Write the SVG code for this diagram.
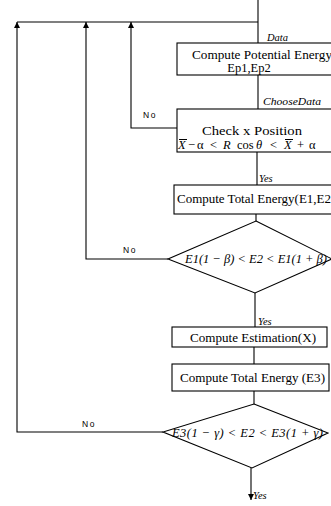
<svg xmlns="http://www.w3.org/2000/svg" width="331" height="506" viewBox="0 0 331 506">
<defs>
<style>
.ln{stroke:#000;stroke-width:1.1;fill:none}
.bx{stroke:#000;stroke-width:1.1;fill:#fff}
.t{font-family:"Liberation Serif","Times New Roman",serif;font-size:12.5px;fill:#000}
.m{font-family:"Liberation Serif","Times New Roman",serif;font-size:12.5px;font-style:italic;fill:#000}
.lb{font-family:"Liberation Serif","Times New Roman",serif;font-size:10.5px;font-style:italic;fill:#000}
.no{font-family:"Liberation Sans",Arial,sans-serif;font-size:8.5px;letter-spacing:1.5px;fill:#000}
</style>
<marker id="ah" viewBox="0 0 6 8" refX="6" refY="3" markerWidth="6" markerHeight="8" orient="auto" markerUnits="userSpaceOnUse">
<path d="M0,0 L6,3 L0,6 z" fill="#000"/>
</marker>
</defs>
<rect width="331" height="506" fill="#fff"/>
<g id="connectors">
<path class="ln" d="M258,0 V43"/>
<path class="ln" d="M17,22 H258"/>
<path class="ln" d="M258,75 V109"/>
<path class="ln" d="M257,152 V185"/>
<path class="ln" d="M256,214 V221"/>
<path class="ln" d="M255,293 V327"/>
<path class="ln" d="M254,347 V364"/>
<path class="ln" d="M254,391 V404"/>
<path class="ln" d="M251,468 V500" marker-end="url(#ah)"/>
<path class="ln" d="M177,128 H131 V22" marker-end="url(#ah)"/>
<path class="ln" d="M168,259 H86 V22" marker-end="url(#ah)"/>
<path class="ln" d="M163,432 H17 V22" marker-end="url(#ah)"/>
<text class="lb" x="267" y="41">Data</text>
<text class="lb" x="263" y="105" textLength="58" lengthAdjust="spacingAndGlyphs">ChooseData</text>
<text class="lb" x="259" y="182">Yes</text>
<text class="lb" x="258" y="325">Yes</text>
<text class="lb" x="253" y="499">Yes</text>
<text class="no" x="143" y="118">No</text>
<text class="no" x="123" y="253">No</text>
<text class="no" x="82" y="427">No</text>
</g>
<g id="node-potential">
<rect class="bx" x="177" y="43" width="170" height="32"/>
<text class="t" x="192" y="59" textLength="140" lengthAdjust="spacingAndGlyphs">Compute Potential Energy</text>
<text class="t" x="249" y="72" text-anchor="middle">Ep1,Ep2</text>
</g>
<g id="node-check">
<rect class="bx" x="177" y="109" width="170" height="43"/>
<text class="t" x="202" y="135" textLength="100" lengthAdjust="spacingAndGlyphs">Check x Position</text>
<text class="t" y="149"><tspan x="178" font-style="italic">X</tspan><tspan x="188">−</tspan><tspan x="197">α</tspan><tspan x="210">&lt;</tspan><tspan x="223" font-style="italic">R</tspan><tspan x="237">cos</tspan><tspan x="256" font-style="italic">θ</tspan><tspan x="270">&lt;</tspan><tspan x="284" font-style="italic">X</tspan><tspan x="297">+</tspan><tspan x="309">α</tspan></text>
<path class="ln" d="M179,139.5 H187 M285,139.5 H293" stroke-width="0.9"/>
</g>
<g id="node-total12">
<rect class="bx" x="174" y="185" width="175" height="29"/>
<text class="t" x="177" y="203" textLength="154" lengthAdjust="spacingAndGlyphs">Compute Total Energy(E1,E2</text>
</g>
<g id="node-cond1">
<path class="bx" d="M256,221 L332,259 L255,293 L168,259 Z"/>
<text class="m" x="185" y="263" textLength="142" lengthAdjust="spacingAndGlyphs">E1(1 − β) &lt; E2 &lt; E1(1 + β)</text>
</g>
<g id="node-estimation">
<rect class="bx" x="172" y="327" width="155" height="20"/>
<text class="t" x="190" y="342" textLength="126" lengthAdjust="spacingAndGlyphs">Compute Estimation(X)</text>
</g>
<g id="node-total3">
<rect class="bx" x="172" y="364" width="157" height="27"/>
<text class="t" x="180" y="382" textLength="145" lengthAdjust="spacingAndGlyphs">Compute Total Energy (E3)</text>
</g>
<g id="node-cond2">
<path class="bx" d="M254,404 L328,433 L252,468 L163,432 Z"/>
<text class="m" x="172" y="437" textLength="151" lengthAdjust="spacing">E3(1 − γ) &lt; E2 &lt; E3(1 + γ)</text>
</g>
</svg>
